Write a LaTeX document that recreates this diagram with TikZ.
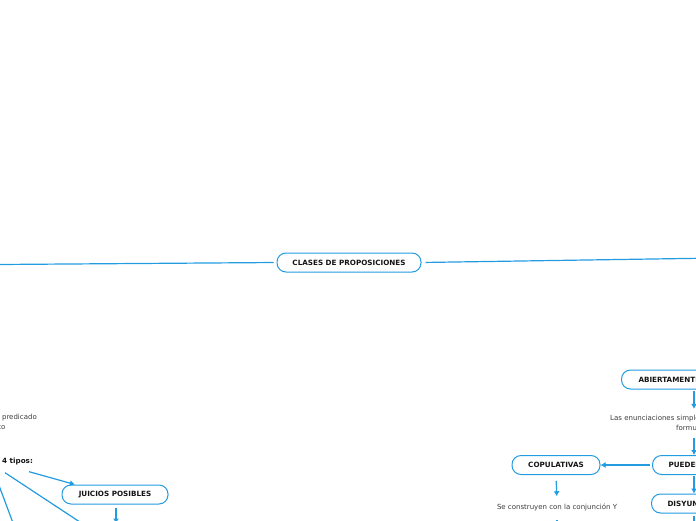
\documentclass[tikz,border=0pt]{standalone}
\usepackage{fontspec}
\setmainfont{DejaVu Sans}
\usetikzlibrary{arrows.meta,positioning,calc}
\definecolor{mapblue}{RGB}{35,155,225}
\definecolor{ink}{RGB}{20,20,20}
\definecolor{grey}{RGB}{60,60,60}

\begin{document}
\begin{tikzpicture}[x=1pt,y=-1pt,
  font=\fontsize{7}{8.6}\selectfont,
  box/.style={draw=mapblue,fill=white,line width=1pt,rounded corners=9pt,minimum height=19pt,inner xsep=0pt,font=\fontsize{7.2}{8.6}\selectfont\bfseries,text=ink},
  txt/.style={inner sep=0pt,text=grey},
  ln/.style={mapblue,line width=1.2pt},
  a/.style={ln,-{Latex[length=5pt,width=6pt]}}]
  \useasboundingbox (0,0) rectangle (696,520);
  \clip (0,0) rectangle (696,520);
  % centre
  \node[box,minimum width=144pt] (root) at (349,262.5) {CLASES DE PROPOSICIONES};
  \coordinate (lft) at (-2,264.5);
  \coordinate (rgt) at (698,258.3);
  \draw[ln,shorten <=3pt] (root.west) -- (lft);
  \draw[ln,shorten <=4pt] (root.east) -- (rgt);
  % left branch
  \node[txt,anchor=east] (pred) at (37,418) {predicado};
  \node[txt,anchor=east] (to) at (5.5,427) {to};
  \node[txt,anchor=west,font=\fontsize{7.2}{8.6}\selectfont\bfseries,text=ink] (tipos) at (2,462) {4 tipos:};
  \node[box,minimum width=106pt] (juicios) at (115,494.5) {JUICIOS POSIBLES};
  \coordinate (jout1) at (92,530);
  \coordinate (jout2) at (15.6,530);
  \coordinate (jdown) at (116,523.5);
  \draw[a] ([shift={(-4,6)}]tipos.south east) -- (juicios.166);
  \draw[ln] ([shift={(3,7)}]tipos.south west) -- (jout1);
  \draw[ln] ([shift={(-7,9)}]tipos.south west) -- (jout2);
  \draw[a,shorten <=3pt] (juicios.south -| jdown) -- (jdown);
  % right branch
  \coordinate (col) at (694,0);
  \node[box,anchor=west,inner xsep=17pt] (abiert) at (621,379.5) {ABIERTAMENTE};
  \node[txt,anchor=west] (enun) at (610,418.5) {Las enunciaciones simples};
  \node[txt,anchor=west] (formu) at (676,427.5) {formu};
  \node[box,anchor=west,inner xsep=16pt] (pueden) at (652,465) {PUEDEN};
  \node[box,minimum width=88pt] (copul) at (556,465) {COPULATIVAS};
  \node[txt] (secons) at (557,507) {Se construyen con la conjunción Y};
  \node[box,anchor=west,inner xsep=16pt] (disyun) at (651,503.5) {DISYUNTIVAS};
  \coordinate (secout) at (557,540);
  \coordinate (disout) at (694,540);
  \draw[a,shorten <=1pt,shorten >=6pt] (abiert.south -| col) -- (enun.north -| col);
  \draw[a,shorten <=8pt] (formu.south -| col) -- (pueden.north -| col);
  \draw[a,shorten <=2pt] (pueden.west) -- (copul.east);
  \draw[a,shorten <=6pt,shorten >=7pt] (copul.south) -- (secons.north);
  \draw[a,shorten <=9pt] (secons.south) -- (secout);
  \draw[a,shorten <=1pt] (pueden.south -| col) -- (disyun.north -| col);
  \draw[ln,shorten <=2pt] (disyun.south -| col) -- (disout);
\end{tikzpicture}
\end{document}
